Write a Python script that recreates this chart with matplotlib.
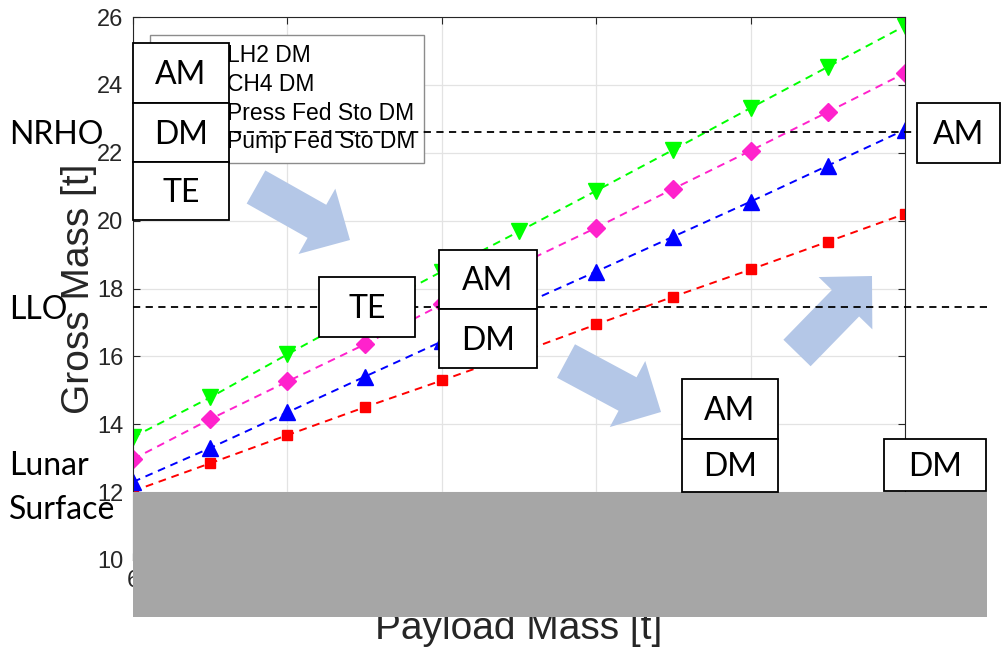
import matplotlib
matplotlib.use("Agg")
import matplotlib.pyplot as plt
from matplotlib.patches import Rectangle, FancyArrow
from matplotlib.lines import Line2D

# payload mass vs gross mass for the four descent module options
payload = [6.0, 6.5, 7.0, 7.5, 8.0, 8.5, 9.0, 9.5, 10.0, 10.5, 11.0]
lh2_dm = [12.03, 12.85, 13.68, 14.50, 15.29, 16.10, 16.94, 17.76, 18.56, 19.38, 20.20]
ch4_dm = [12.30, 13.30, 14.35, 15.40, 16.44, 17.48, 18.50, 19.53, 20.56, 21.62, 22.68]
press_sto_dm = [13.62, 14.79, 16.06, 17.30, 18.50, 19.68, 20.88, 22.09, 23.32, 24.53, 25.74]
pump_sto_dm = [12.97, 14.15, 15.26, 16.35, 17.53, 18.70, 19.79, 20.94, 22.06, 23.20, 24.35]
labels = ["LH2 DM", "CH4 DM", "Press Fed Sto DM", "Pump Fed Sto DM"]

nrho_mass = 22.6
llo_mass = 17.45

W, H = 1002, 648
fig = plt.figure(figsize=(W / 100, H / 100), dpi=100)
plt.rcParams['font.family'] = 'Liberation Sans'

ax = fig.add_axes([133 / W, 1 - 560 / H, (905 - 133) / W, (560 - 17) / H])
# overlay axes in pixel units for the slide shapes
ov = fig.add_axes([0, 0, 1, 1], zorder=10)
ov.set_xlim(0, W)
ov.set_ylim(H, 0)
ov.axis('off')
ov.patch.set_alpha(0)

ax.plot(payload, lh2_dm, '--', color='red', marker='s', ms=7, lw=1.4, dashes=(4, 3), zorder=2)
ax.plot(payload, ch4_dm, '--', color='blue', marker='^', ms=11.5, lw=1.4, dashes=(4, 3), zorder=2)
ax.plot(payload, press_sto_dm, '--', color='#00ff00', marker='v', ms=11.5, lw=1.4, dashes=(4, 3), zorder=2)
ax.plot(payload, pump_sto_dm, '--', color='#ff22cc', marker='D', ms=9, lw=1.4, dashes=(4, 3), zorder=2)

# orbit reference lines, run out past the axes
ax.plot([6, 11.53], [nrho_mass, nrho_mass], color='black', lw=1.3, dashes=(4, 3), clip_on=False, zorder=6)
ax.plot([6, 11.53], [llo_mass, llo_mass], color='black', lw=1.3, dashes=(4, 3), clip_on=False, zorder=6)

ax.set_xlim(6, 11)
ax.set_ylim(10, 26)
ax.set_yticks(range(10, 27, 2))
ax.set_xticks(range(6, 12))
ax.grid(True, color='#e3e3e3', lw=0.9)
ax.set_axisbelow(True)
ax.tick_params(direction='in', length=5, width=0.8, top=True, right=True,
               labelsize=17, colors='#262626', pad=7)
for s in ax.spines.values():
    s.set_color('#262626')
    s.set_linewidth(0.8)
ax.set_ylabel("Gross Mass [t]", fontsize=28, color='#262626', labelpad=0)
ax.set_xlabel("Payload Mass [t]", fontsize=28, color='#262626', labelpad=14)

handles = [Line2D([], [], color='w') for _ in labels]
leg = ax.legend(handles, labels, loc='upper left', bbox_to_anchor=(150 / W, 1 - 35 / H),
                bbox_transform=fig.transFigure, fontsize=16.5, fancybox=False,
                edgecolor='#8c8c8c', framealpha=1, borderpad=0.4, labelspacing=0.25,
                handlelength=2.55, handletextpad=0.4, borderaxespad=0)
leg.get_frame().set_linewidth(1.0)
leg.set_zorder(5)

# block arrows (slide shapes)
arrow_col = '#b4c7e7'
for (x0, y0, x1, y1) in [(256, 187, 350, 240), (566, 361, 661, 412), (797, 353, 872, 276)]:
    ax.add_patch(FancyArrow(x0, y0, x1 - x0, y1 - y0, width=38, head_width=75, head_length=38,
                            length_includes_head=True, color=arrow_col, lw=0,
                            transform=ov.transData, clip_on=False, zorder=1.5))

# gray ground block
ov.add_patch(Rectangle((133, 492), 987 - 133, 617 - 492, facecolor='#a6a6a6', edgecolor='none'))

box_font = dict(family='Lato', fontsize=23, ha='center', va='center', color='black')


def box(x0, x1, y0, y1, text):
    ov.add_patch(Rectangle((x0, y0), x1 - x0, y1 - y0, facecolor='white', edgecolor='black', lw=1.3))
    ov.text((x0 + x1) / 2, (y0 + y1) / 2 + 2, text, **box_font)


box(133, 229, 43, 103, "AM")
box(133, 229, 103, 162, "DM")
box(133, 229, 162, 220, "TE")
box(319, 415, 277, 337, "TE")
box(439, 537, 250, 309, "AM")
box(439, 537, 309, 368, "DM")
box(682, 778, 379, 439, "AM")
box(682, 778, 439, 492, "DM")
box(917, 1000, 103, 163, "AM")
box(884, 986, 439, 491, "DM")

side_font = dict(family='Lato', fontsize=23, ha='left', va='center', color='black')
ov.text(9, 135, "NRHO", **side_font)
ov.text(9, 310, "LLO", **side_font)
ov.text(9, 466, "Lunar", **side_font)
ov.text(9, 510, "Surface", **side_font)

fig.savefig("out.png", dpi=100)
